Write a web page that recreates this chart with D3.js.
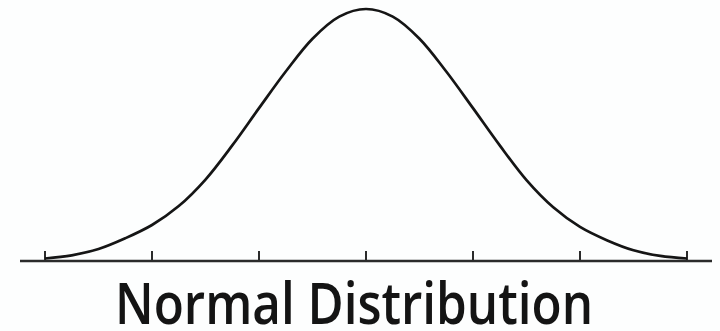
<!DOCTYPE html>
<html>
<head>
<meta charset="utf-8">
<script src="https://cdn.jsdelivr.net/npm/d3@7"></script>
<style>
    body { margin: 0; background: #fdfefe; }
    svg { display: block; }
</style>
</head>
<body>
<svg id="chart"></svg>
<script>
// z in standard deviations, density
const zValues = [-3, -2.75, -2.5, -2.25, -2, -1.75, -1.5, -1.25, -1, -0.75, -0.5, -0.25,
    0, 0.25, 0.5, 0.75, 1, 1.25, 1.5, 1.75, 2, 2.25, 2.5, 2.75, 3]
const density = [0.004, 0.009, 0.019, 0.036, 0.057, 0.087, 0.129, 0.183, 0.242, 0.300, 0.352, 0.387,
    0.399, 0.387, 0.352, 0.300, 0.242, 0.183, 0.128, 0.085, 0.054, 0.033, 0.017, 0.008, 0.004]
const tickValues = [-3, -2, -1, 0, 1, 2, 3]
const title = "Normal Distribution"

const config = {
    width: 720,
    height: 331,
    axisLeft: 20,
    axisRight: 712
}

const svg = d3.select("#chart")
    .attr("width", config.width)
    .attr("height", config.height)

const x = d3.scaleLinear()
    .domain([-3, 3])
    .range([45, 687])

const y = d3.scaleLinear()
    .domain([0, 0.399])
    .range([261, 9])

// baseline
svg.append("line")
    .attr("x1", config.axisLeft)
    .attr("x2", config.axisRight)
    .attr("y1", y(0))
    .attr("y2", y(0))
    .attr("stroke", "#2b2b2b")
    .attr("stroke-width", 2.6)

// ticks
svg.selectAll(".tick")
    .data(tickValues)
    .join("line")
    .attr("class", "tick")
    .attr("x1", d => x(d))
    .attr("x2", d => x(d))
    .attr("y1", y(0) - 10)
    .attr("y2", y(0))
    .attr("stroke", "#2b2b2b")
    .attr("stroke-width", 2)

// curve
const points = zValues.map((z, i) => ({z: z, p: density[i]}))
const line = d3.line()
    .x(d => x(d.z))
    .y(d => y(d.p))
    .curve(d3.curveCatmullRom)

svg.append("path")
    .datum(points)
    .attr("d", line)
    .attr("fill", "none")
    .attr("stroke", "#151515")
    .attr("stroke-width", 2.7)

// title
svg.append("text")
    .attr("x", 354)
    .attr("y", 324)
    .attr("text-anchor", "middle")
    .attr("font-family", "'Open Sans', Lato, sans-serif")
    .attr("font-weight", 600)
    .attr("font-size", "58px")
    .attr("fill", "#141414")
    .attr("textLength", 478)
    .attr("lengthAdjust", "spacingAndGlyphs")
    .text(title)
</script>
</body>
</html>
